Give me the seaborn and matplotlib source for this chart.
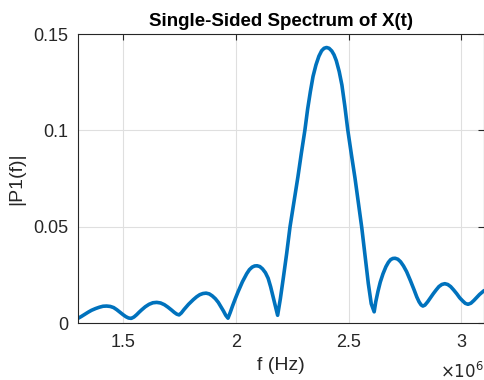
import pandas as pd
import matplotlib
matplotlib.use("Agg")
import matplotlib.pyplot as plt
import seaborn as sns
from matplotlib.ticker import FuncFormatter

# frequency in units of 1e6 Hz and |P1(f)|
freq_mhz = [
    1.300, 1.315, 1.330, 1.345, 1.360, 1.378, 1.395, 1.411, 1.427, 1.443,
    1.458, 1.472, 1.486, 1.500, 1.512, 1.524, 1.536,
    1.548, 1.560, 1.571, 1.582, 1.598, 1.615, 1.632, 1.649, 1.666,
    1.683, 1.699, 1.715, 1.727, 1.738, 1.748,
    1.758, 1.770, 1.790, 1.811, 1.826, 1.840, 1.854, 1.868, 1.882,
    1.895, 1.909, 1.922, 1.934, 1.945, 1.955, 1.965,
    1.975, 1.985, 1.998, 2.010, 2.029, 2.048, 2.060, 2.072, 2.083,
    2.094, 2.106, 2.118, 2.131, 2.143, 2.154, 2.165, 2.175, 2.185,
    2.197, 2.210, 2.225, 2.240, 2.258, 2.275, 2.290, 2.306, 2.318,
    2.330, 2.342, 2.355, 2.368, 2.380, 2.391, 2.402, 2.413, 2.425,
    2.435, 2.445, 2.458, 2.470, 2.483, 2.496, 2.512, 2.528, 2.543,
    2.558, 2.573, 2.587, 2.600, 2.613,
    2.620, 2.630, 2.640, 2.652, 2.665, 2.676, 2.686, 2.696, 2.706,
    2.718, 2.730, 2.743, 2.757, 2.773, 2.790, 2.802, 2.812, 2.821, 2.829,
    2.838, 2.850, 2.862, 2.875, 2.888, 2.900, 2.913, 2.926, 2.939,
    2.952, 2.965, 2.979, 2.992, 3.005, 3.017, 3.029,
    3.042, 3.055, 3.068, 3.080, 3.090, 3.100,
]
p1 = [
    0.0024, 0.0034, 0.0045, 0.0056, 0.0066, 0.0075, 0.0082, 0.0087, 0.0088, 0.0086,
    0.0080, 0.0069, 0.0056, 0.0043, 0.0033, 0.0026, 0.0024,
    0.0031, 0.0043, 0.0056, 0.0068, 0.0084, 0.0097, 0.0105, 0.0107, 0.0104,
    0.0095, 0.0082, 0.0067, 0.0055, 0.0046, 0.0042,
    0.0052, 0.0070, 0.0097, 0.0121, 0.0136, 0.0147, 0.0153, 0.0155, 0.0151,
    0.0141, 0.0126, 0.0107, 0.0084, 0.0062, 0.0040, 0.0025,
    0.0055, 0.0088, 0.0128, 0.0163, 0.0214, 0.0256, 0.0277, 0.0290, 0.0296,
    0.0297, 0.0293, 0.0281, 0.0261, 0.0232, 0.0188, 0.0135, 0.0085, 0.0040,
    0.0125, 0.0232, 0.0360, 0.0500, 0.0635, 0.0759, 0.0880, 0.1002, 0.1110,
    0.1200, 0.1280, 0.1340, 0.1385, 0.1413, 0.1426, 0.1430, 0.1426, 0.1412,
    0.1392, 0.1362, 0.1305, 0.1235, 0.1125, 0.1002, 0.0875, 0.0752, 0.0625,
    0.0495, 0.0345, 0.0205, 0.0100, 0.0058,
    0.0110, 0.0165, 0.0212, 0.0255, 0.0292, 0.0315, 0.0329, 0.0335, 0.0336,
    0.0331, 0.0318, 0.0296, 0.0266, 0.0222, 0.0172, 0.0135, 0.0110, 0.0094, 0.0088,
    0.0093, 0.0110, 0.0130, 0.0152, 0.0172, 0.0189, 0.0200, 0.0204, 0.0200,
    0.0189, 0.0172, 0.0152, 0.0131, 0.0115, 0.0102, 0.0097,
    0.0103, 0.0117, 0.0133, 0.0148, 0.0158, 0.0168,
]

x_ticks = [1.5e6, 2e6, 2.5e6, 3e6]
y_ticks = [0, 0.05, 0.1, 0.15]

df = pd.DataFrame({"f": [v * 1e6 for v in freq_mhz], "P1": p1})

sns.set_theme(style="whitegrid")
plt.rcParams["font.family"] = ["Liberation Sans", "DejaVu Sans"]

fig = plt.figure(figsize=(4.85, 3.8), dpi=100)
ax = fig.add_axes([0.1608, 0.15, 0.8372, 0.7605])

sns.lineplot(data=df, x="f", y="P1", ax=ax, color="#0072BD", linewidth=2.6)

ax.set_xlim(1.3e6, 3.1e6)
ax.set_ylim(0, 0.15)
ax.set_xticks(x_ticks)
ax.set_yticks(y_ticks)
ax.xaxis.set_major_formatter(FuncFormatter(lambda v, _: f"{v / 1e6:g}"))
ax.yaxis.set_major_formatter(FuncFormatter(lambda v, _: f"{v:g}"))

ax.set_facecolor("white")
ax.grid(True, color="#dfdfdf", linewidth=0.8)
for s in ax.spines.values():
    s.set_visible(True)
    s.set_color("#262626")
    s.set_linewidth(0.8)

ax.tick_params(direction="in", length=4, width=0.8, color="#262626",
               top=True, right=True, labelsize=13, labelcolor="#262626")
ax.tick_params(axis="x", pad=8)
ax.tick_params(axis="y", pad=7)

ax.set_xlabel("f (Hz)", fontsize=14, color="#262626", labelpad=4)
ax.set_ylabel("|P1(f)|", fontsize=14, color="#262626", labelpad=6)
ax.set_title("Single-Sided Spectrum of X(t)", fontsize=13.5, fontweight="bold",
             color="black", pad=6)

ax.text(1.0, -0.19, r"$\times10^{6}$", transform=ax.transAxes,
        ha="right", va="baseline", fontsize=12, color="#262626")

fig.savefig("out.png", dpi=100)
